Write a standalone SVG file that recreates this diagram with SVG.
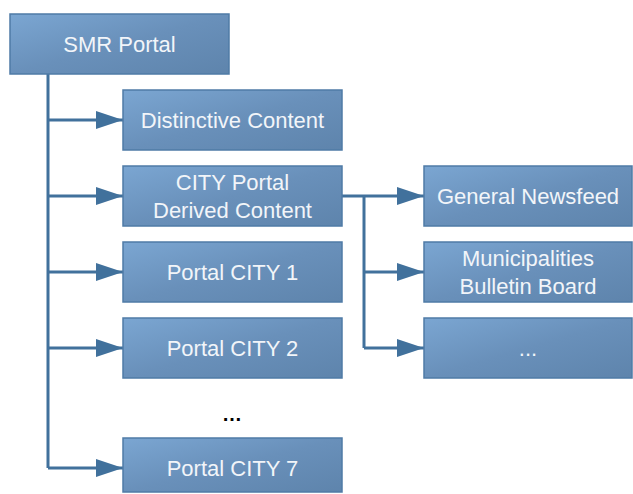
<svg xmlns="http://www.w3.org/2000/svg" width="633" height="494" viewBox="0 0 633 494">
<defs>
<linearGradient id="g" x1="0" y1="0" x2="1" y2="1">
<stop offset="0" stop-color="#7BA6D2"/>
<stop offset="0.5" stop-color="#6990BA"/>
<stop offset="1" stop-color="#5E84AC"/>
</linearGradient>
<marker id="a" viewBox="0 0 27 18" refX="27" refY="9" markerWidth="27" markerHeight="18" markerUnits="userSpaceOnUse" orient="auto">
<path d="M0,0 L27,9 L0,18 z" fill="#41719C"/>
</marker>
<style>
.box{fill:url(#g);stroke:#4F7BA6;stroke-width:1.5}
.t{font-family:"Liberation Sans",Arial,sans-serif;font-size:22px;fill:#F2F5F9;text-anchor:middle}
.c{fill:none;stroke:#41719C;stroke-width:3}
</style>
</defs>
<g id="connectors">
<path class="c" d="M48,74 V468"/>
<path class="c" d="M48,120 H123" marker-end="url(#a)"/>
<path class="c" d="M48,196 H123" marker-end="url(#a)"/>
<path class="c" d="M48,272 H123" marker-end="url(#a)"/>
<path class="c" d="M48,348 H123" marker-end="url(#a)"/>
<path class="c" d="M48,468 H123" marker-end="url(#a)"/>
<path class="c" d="M342,196 H424" marker-end="url(#a)"/>
<path class="c" d="M364,196 V348"/>
<path class="c" d="M364,272 H424" marker-end="url(#a)"/>
<path class="c" d="M364,348 H424" marker-end="url(#a)"/>
</g>
<g id="smr"><rect class="box" x="10" y="14" width="219" height="60"/><text class="t" x="119.5" y="52">SMR Portal</text></g>
<g id="distinctive"><rect class="box" x="123" y="90" width="219" height="60"/><text class="t" x="232.5" y="128">Distinctive Content</text></g>
<g id="cityportal"><rect class="box" x="123" y="166" width="219" height="60"/><text class="t" x="232.5" y="190">CITY Portal</text><text class="t" x="232.5" y="218">Derived Content</text></g>
<g id="city1"><rect class="box" x="123" y="242" width="219" height="60"/><text class="t" x="232.5" y="280">Portal CITY 1</text></g>
<g id="city2"><rect class="box" x="123" y="318" width="219" height="60"/><text class="t" x="232.5" y="356">Portal CITY 2</text></g>
<g id="city7"><rect class="box" x="123" y="438" width="219" height="54"/><text class="t" x="232.5" y="476">Portal CITY 7</text></g>
<g id="newsfeed"><rect class="box" x="424" y="166" width="208" height="60"/><text class="t" x="528" y="204">General Newsfeed</text></g>
<g id="bulletin"><rect class="box" x="424" y="242" width="208" height="60"/><text class="t" x="528" y="266">Municipalities</text><text class="t" x="528" y="294">Bulletin Board</text></g>
<g id="more"><rect class="box" x="424" y="318" width="208" height="60"/><text class="t" x="528" y="356">...</text></g>
<text x="232" y="421" style="font-family:'Liberation Sans',Arial,sans-serif;font-size:20px;font-weight:bold;fill:#000;text-anchor:middle">…</text>
</svg>
